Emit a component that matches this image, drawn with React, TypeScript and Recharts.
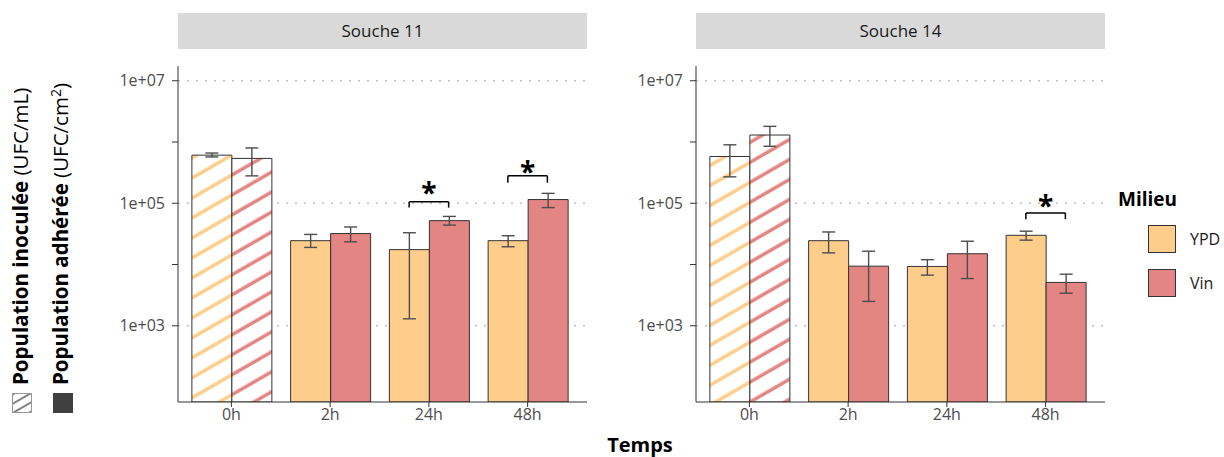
import { ComposedChart, Bar, Cell, ErrorBar, XAxis, YAxis, CartesianGrid, ReferenceLine, ReferenceDot } from "recharts";

const times = ["0h", "2h", "24h", "48h"];

// Souche 11
const s11Ypd = [6.1e5, 2.45e4, 1.75e4, 2.45e4];
const s11YpdLow = [5.7e5, 1.9e4, 1.3e3, 1.95e4];
const s11YpdHigh = [6.6e5, 3.1e4, 3.3e4, 2.95e4];
const s11Vin = [5.4e5, 3.2e4, 5.2e4, 1.15e5];
const s11VinLow = [2.8e5, 2.35e4, 4.4e4, 8.5e4];
const s11VinHigh = [8.0e5, 4.1e4, 6.1e4, 1.45e5];

// Souche 14
const s14Ypd = [5.8e5, 2.45e4, 9.3e3, 3.0e4];
const s14YpdLow = [2.7e5, 1.55e4, 6.7e3, 2.5e4];
const s14YpdHigh = [9.0e5, 3.4e4, 1.2e4, 3.5e4];
const s14Vin = [1.3e6, 9.4e3, 1.5e4, 5.1e3];
const s14VinLow = [8.5e5, 2.5e3, 5.9e3, 3.4e3];
const s14VinHigh = [1.8e6, 1.65e4, 2.4e4, 6.95e3];

// significance brackets: category index, bracket top, leg end, star position
const s11Signif = [
  { idx: 2, top: 1.06e5, leg: 8.5e4, star: 2.0e5 },
  { idx: 3, top: 2.8e5, leg: 2.17e5, star: 4.4e5 },
];
const s14Signif = [{ idx: 3, top: 6.95e4, leg: 5.5e4, star: 1.22e5 }];

const yTicks = [1e3, 1e4, 1e5, 1e6, 1e7];
const yLabelled = [1e3, 1e5, 1e7];
const yDomain = [57, 1.74e7];

const YPD = "#FECD8C";
const VIN = "#E38583";
const FONT = "'Open Sans', sans-serif";

const buildRows = (ypd: number[], ypdLow: number[], ypdHigh: number[], vin: number[], vinLow: number[], vinHigh: number[]) =>
  times.map((t, i) => ({
    time: t,
    pos: i,
    ypd: ypd[i],
    vin: vin[i],
    ypdErr: [ypd[i] - ypdLow[i], ypdHigh[i] - ypd[i]],
    vinErr: [vin[i] - vinLow[i], vinHigh[i] - vin[i]],
  }));

interface PanelProps {
  id: string;
  rows: ReturnType<typeof buildRows>;
  signif: { idx: number; top: number; leg: number; star: number }[];
  width: number;
  marginLeft: number;
  marginRight: number;
}

const Panel = ({ id, rows, signif, width, marginLeft, marginRight }: PanelProps) => {
  const pad = { left: 4, right: 10 };
  // numeric twin of the category axis: 0..3 lands on the band centres
  const band = (409 - pad.left - pad.right) / times.length;
  const numPad = { left: pad.left + band / 2, right: pad.right + band / 2 };
  const off = 0.2;
  const seg = { xAxisId: "num", stroke: "#000", strokeWidth: 1.5, ifOverflow: "visible" as const };
  return (
    <ComposedChart
      width={width}
      height={457}
      data={rows}
      margin={{ top: 66, right: marginRight, bottom: 25, left: marginLeft }}
      barCategoryGap="10%"
      barGap={0}
    >
      <defs>
        <pattern id={`hatch-ypd-${id}`} patternUnits="userSpaceOnUse" width="20" height="17.3" patternTransform="rotate(-30)">
          <rect width="20" height="17.3" fill="#fff" />
          <line x1="0" y1="8" x2="20" y2="8" stroke={YPD} strokeWidth="3.5" />
        </pattern>
        <pattern id={`hatch-vin-${id}`} patternUnits="userSpaceOnUse" width="20" height="17.3" patternTransform="rotate(-30)">
          <rect width="20" height="17.3" fill="#fff" />
          <line x1="0" y1="8" x2="20" y2="8" stroke={VIN} strokeWidth="3.5" />
        </pattern>
      </defs>
      <CartesianGrid vertical={false} horizontalValues={yLabelled} stroke="#bdbdbd" strokeWidth={1.5} strokeDasharray="2 7" />
      <XAxis
        dataKey="time"
        padding={pad}
        height={30}
        axisLine={{ stroke: "#333" }}
        tickLine={{ stroke: "#333" }}
        tickSize={5}
        tick={{ fill: "#4d4d4d", fontSize: 16, fontFamily: FONT }}
      />
      <XAxis xAxisId="num" dataKey="pos" type="number" domain={[0, 3]} hide padding={numPad} />
      <YAxis
        scale="log"
        type="number"
        domain={yDomain}
        allowDataOverflow
        ticks={yTicks}
        interval={0}
        width={60}
        tickFormatter={(v: number) => (yLabelled.includes(v) ? `1e+0${Math.round(Math.log10(v))}` : "")}
        axisLine={{ stroke: "#333" }}
        tickLine={{ stroke: "#333" }}
        tickSize={6}
        tickMargin={7}
        tick={{ fill: "#4d4d4d", fontSize: 16, fontFamily: FONT }}
      />
      <Bar dataKey="ypd" stroke="#333" strokeWidth={1} isAnimationActive={false}>
        {rows.map((r, i) => (
          <Cell key={r.time} fill={i === 0 ? `url(#hatch-ypd-${id})` : YPD} />
        ))}
        <ErrorBar dataKey="ypdErr" direction="y" width={6.5} stroke="#4d4d4d" strokeWidth={1.4} />
      </Bar>
      <Bar dataKey="vin" stroke="#333" strokeWidth={1} isAnimationActive={false}>
        {rows.map((r, i) => (
          <Cell key={r.time} fill={i === 0 ? `url(#hatch-vin-${id})` : VIN} />
        ))}
        <ErrorBar dataKey="vinErr" direction="y" width={6.5} stroke="#4d4d4d" strokeWidth={1.4} />
      </Bar>
      {signif.map((s) => [
        <ReferenceLine key={`l${s.idx}`} {...seg} segment={[{ x: s.idx - off, y: s.leg }, { x: s.idx - off, y: s.top }]} />,
        <ReferenceLine key={`t${s.idx}`} {...seg} segment={[{ x: s.idx - off, y: s.top }, { x: s.idx + off, y: s.top }]} />,
        <ReferenceLine key={`r${s.idx}`} {...seg} segment={[{ x: s.idx + off, y: s.top }, { x: s.idx + off, y: s.leg }]} />,
        <ReferenceDot
          key={`s${s.idx}`}
          xAxisId="num"
          x={s.idx}
          y={s.star}
          r={0}
          fill="none"
          stroke="none"
          ifOverflow="visible"
          label={{ value: "*", position: "center", fontSize: 28, fontWeight: 700, fill: "#000", fontFamily: FONT, dy: 8 }}
        />,
      ])}
    </ComposedChart>
  );
};

const strip = (left: number, text: string) => (
  <div
    style={{
      position: "absolute",
      left,
      top: 13,
      width: 409,
      height: 36,
      background: "#d9d9d9",
      color: "#1a1a1a",
      fontSize: 17,
      lineHeight: "36px",
      textAlign: "center",
    }}
  >
    {text}
  </div>
);

export default function App() {
  const rows11 = buildRows(s11Ypd, s11YpdLow, s11YpdHigh, s11Vin, s11VinLow, s11VinHigh);
  const rows14 = buildRows(s14Ypd, s14YpdLow, s14YpdHigh, s14Vin, s14VinLow, s14VinHigh);
  return (
    <div style={{ position: "absolute", left: 0, top: 0, width: 1224, height: 457, background: "#fff", fontFamily: FONT, overflow: "hidden" }}>
      {strip(178, "Souche 11")}
      {strip(696, "Souche 14")}
      <div style={{ position: "absolute", left: 0, top: 0 }}>
        <Panel id="s11" rows={rows11} signif={s11Signif} width={600} marginLeft={118} marginRight={13} />
      </div>
      <div style={{ position: "absolute", left: 600, top: 0 }}>
        <Panel id="s14" rows={rows14} signif={s14Signif} width={515} marginLeft={36} marginRight={10} />
      </div>

      {/* y title + fill legend */}
      <svg style={{ position: "absolute", left: 0, top: 0 }} width={100} height={457}>
        <defs>
          <pattern id="hatch-key" patternUnits="userSpaceOnUse" width="8" height="8" patternTransform="rotate(-30)">
            <rect width="8" height="8" fill="#fff" />
            <line x1="0" y1="4" x2="8" y2="4" stroke="#404040" strokeWidth="1.3" />
          </pattern>
        </defs>
        <text transform="translate(28,385) rotate(-90)" fontSize={20.5} fill="#000" fontFamily={FONT}>
          <tspan fontWeight={700}>Population inoculée</tspan> (UFC/mL)
        </text>
        <text transform="translate(68,385) rotate(-90)" fontSize={20.5} fill="#000" fontFamily={FONT}>
          <tspan fontWeight={700}>Population adhérée</tspan> (UFC/cm
          <tspan dy={-7} fontSize={14}>2</tspan>
          <tspan dy={7}>)</tspan>
        </text>
        <rect x={12.5} y={393.5} width={19} height={19} fill="url(#hatch-key)" stroke="#999" strokeWidth={1} />
        <rect x={53} y={393} width={20} height={20} fill="#404040" />
      </svg>

      <div style={{ position: "absolute", left: 0, width: 1280, top: 431, textAlign: "center", fontSize: 20, fontWeight: 700, color: "#000" }}>
        Temps
      </div>

      {/* fill legend */}
      <div style={{ position: "absolute", left: 1118, top: 186, fontSize: 19, fontWeight: 700, color: "#000" }}>Milieu</div>
      <div style={{ position: "absolute", left: 1148, top: 225, width: 28, height: 28, background: YPD, border: "1px solid #333", boxSizing: "border-box" }} />
      <div style={{ position: "absolute", left: 1190, top: 228, fontSize: 16, color: "#1a1a1a" }}>YPD</div>
      <div style={{ position: "absolute", left: 1148, top: 269, width: 28, height: 28, background: VIN, border: "1px solid #333", boxSizing: "border-box" }} />
      <div style={{ position: "absolute", left: 1190, top: 272, fontSize: 16, color: "#1a1a1a" }}>Vin</div>
    </div>
  );
}
